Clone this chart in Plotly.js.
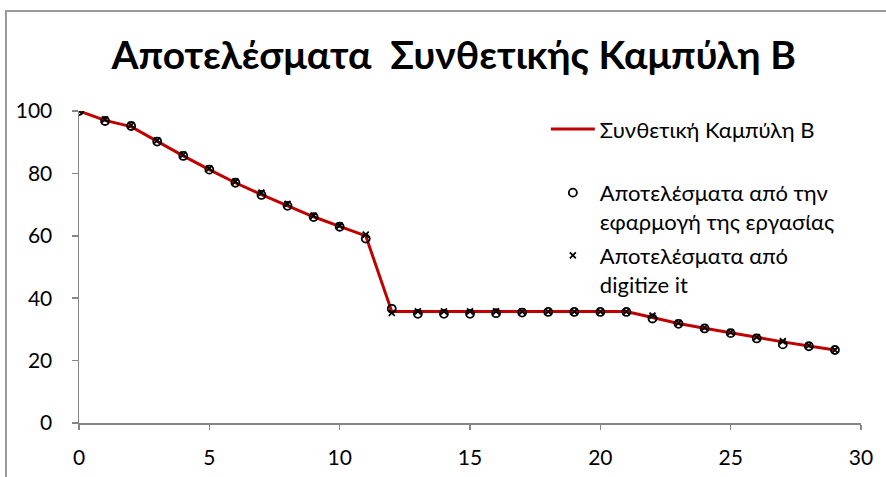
<!DOCTYPE html>
<html>
<head>
<meta charset="utf-8">
<script src="https://cdn.plot.ly/plotly-3.0.1.min.js"></script>
<style>
html,body{margin:0;padding:0;background:#fff;overflow:hidden;}
#frame{position:absolute;left:5px;top:10px;width:1000px;height:600px;border-top:2px solid #9a9a9a;border-left:2px solid #9a9a9a;pointer-events:none;}
#chart{position:absolute;left:0;top:0;width:886px;height:477px;}
</style>
</head>
<body>
<div id="frame"></div>
<div id="chart"></div>
<script>
const xValues = [0,1,2,3,4,5,6,7,8,9,10,11,12,13,14,15,16,17,18,19,20,21,22,23,24,25,26,27,28,29];
const syntheticCurve = [100,97,95,90.2,85.6,81.2,77,73.2,69.7,66.1,63,60,35.7,35.7,35.7,35.7,35.7,35.7,35.7,35.7,35.7,35.7,33.8,31.9,30.4,28.9,27.3,26,24.7,23.4];
const appResults = [100,96.8,95.2,90.2,85.6,81.2,77,73.1,69.6,66,62.9,59.1,36.6,35,35,35,35.2,35.4,35.6,35.6,35.6,35.6,33.5,31.8,30.3,28.8,27.1,25.2,24.6,23.4];
const digitizeResults = [100,97.3,95.5,90.6,86,81.6,77.4,73.8,70.2,66.5,63.3,60.4,35.3,35.8,35.8,35.8,35.8,35.7,35.7,35.7,35.7,35.7,34.4,32.1,30.6,29.1,27.5,26.2,24.9,23.4];

const names = {
  line: "Συνθετική Καμπύλη Β",
  app: "Αποτελέσματα από την<br>εφαρμογή της εργασίας",
  dig: "Αποτελέσματα από<br>digitize it"
};
const titleText = "Αποτελέσματα  Συνθετικής Καμπύλη Β";
const FONT = "Lato, 'Open Sans', 'Noto Sans', sans-serif";

const traces = [
  {x:xValues, y:syntheticCurve, name:names.line, mode:'lines', type:'scatter',
   line:{color:'#C00000', width:3}, legend:'legend'},
  {x:xValues, y:appResults, name:names.app, mode:'markers', type:'scatter',
   marker:{symbol:'circle-open', size:8, color:'#000', line:{width:1.8, color:'#000'}}, legend:'legend2'},
  {x:xValues, y:digitizeResults, name:names.dig, mode:'markers', type:'scatter',
   marker:{symbol:'x-thin-open', size:6, color:'#000', line:{width:1.8, color:'#000'}}, legend:'legend3'}
];

const legBase = {bgcolor:'rgba(0,0,0,0)', borderwidth:0, font:{family:FONT, size:22, color:'#000'},
  xanchor:'left', yanchor:'top', itemwidth:44, valign:'top', itemclick:false, itemdoubleclick:false};

const layout = {
  width:886, height:477,
  margin:{l:79, r:25, t:111, b:54},
  paper_bgcolor:'rgba(0,0,0,0)', plot_bgcolor:'rgba(0,0,0,0)',
  font:{family:FONT, size:21, color:'#000'},
  title:{text:'<b>'+titleText+'</b>', font:{family:FONT, size:39, color:'#000'},
         x:0.512, xref:'container', xanchor:'center', y:0.883, yref:'container', yanchor:'middle'},
  xaxis:{range:[0,30], dtick:5, tick0:0, showgrid:false, zeroline:false, showline:true,
         linecolor:'#868686', linewidth:1.5, ticks:'outside', ticklen:5, tickwidth:1.5, tickcolor:'#868686',
         ticklabelstandoff:10, tickfont:{family:FONT, size:21, color:'#000'}, fixedrange:true},
  yaxis:{range:[0,100], dtick:20, tick0:0, showgrid:false, zeroline:false, showline:true,
         linecolor:'#868686', linewidth:1.5, ticks:'outside', ticklen:6, tickwidth:1.5, tickcolor:'#868686',
         ticklabelstandoff:15, tickfont:{family:FONT, size:21, color:'#000'}, fixedrange:true},
  legend: Object.assign({}, legBase, {x:0.597, y:1.009}),
  legend2: Object.assign({}, legBase, {x:0.597, y:0.805}),
  legend3: Object.assign({}, legBase, {x:0.597, y:0.604}),
  showlegend:true
};

Plotly.newPlot('chart', traces, layout, {displayModeBar:false, staticPlot:true});
</script>
</body>
</html>
